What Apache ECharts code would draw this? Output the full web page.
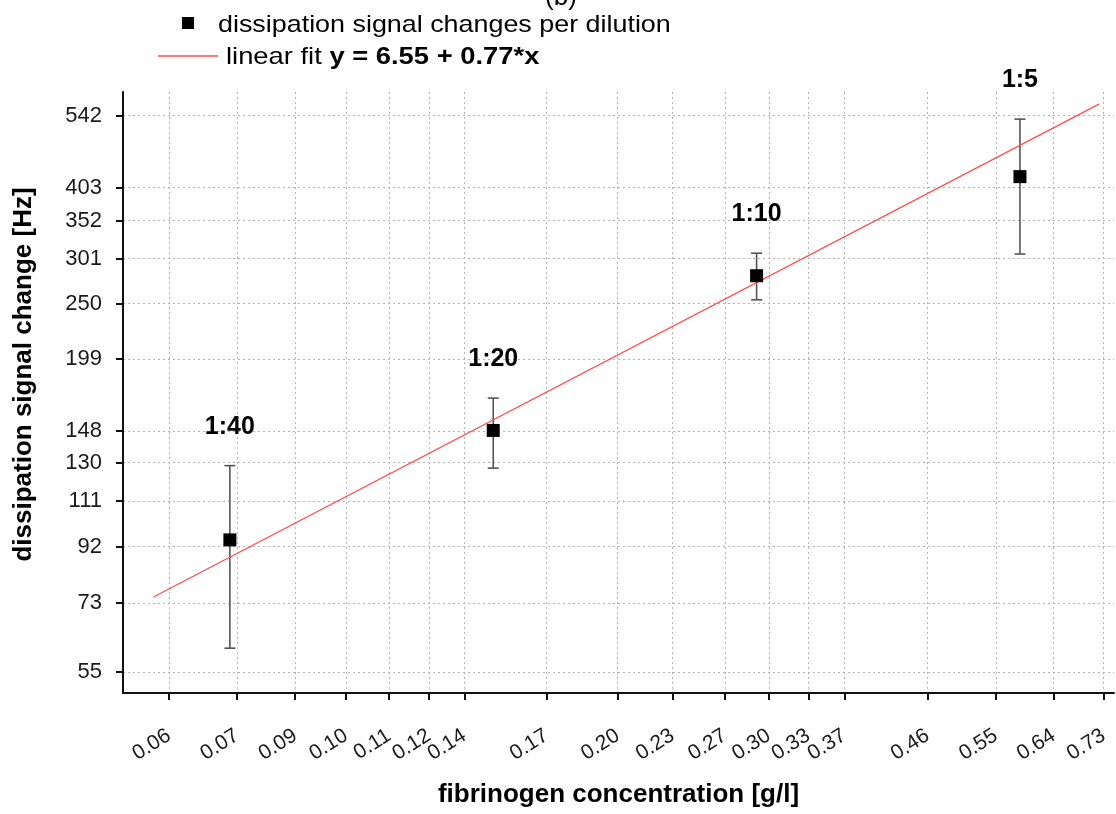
<!DOCTYPE html>
<html>
<head>
<meta charset="utf-8">
<script src="https://cdn.jsdelivr.net/npm/echarts@6/dist/echarts.min.js"></script>
<style>
  html, body { margin: 0; padding: 0; background: #ffffff; }
  #chart { width: 1116px; height: 814px; }
</style>
</head>
<body>
<div id="chart"></div>
<script>
// Fibrinogen dilution series measured by the dissipation signal
const dilutions = ['1:40', '1:20', '1:10', '1:5'];
const concentration = [0.073, 0.146, 0.292, 0.584];      // g/l
const dissipation = [94.6, 148.4, 280.4, 421.5];         // Hz
const errLow = [60.6, 127.1, 254, 306.6];
const errHigh = [128.4, 169.5, 307.6, 534];

// End points of the fitted line (straight on log-log axes)
const fitX = [0.0597, 0.719];
const fitY = [74.8, 568];

// Tick values on both log axes
const xTicks = [0.0622, 0.0744, 0.0867, 0.0991, 0.111, 0.1233, 0.1353, 0.168, 0.2026, 0.234,
                0.2686, 0.3015, 0.3346, 0.3679, 0.458, 0.548, 0.638, 0.728];
const yTicks = [55, 73, 92, 111, 130, 148, 199, 250, 301, 352, 403, 542];

const FONT = '"Liberation Sans", Arial, sans-serif';

const chart = echarts.init(document.getElementById('chart'), null, { renderer: 'canvas' });

const errData = concentration.map((c, i) => [c, errLow[i], errHigh[i], i]);
const pointData = concentration.map((c, i) => [c, dissipation[i]]);
const fitData = fitX.map((x, i) => [x, fitY[i]]);

const axisLineStyle = { color: '#111', width: 2 };
const gridLine = { show: true, lineStyle: { color: '#b4b4b4', type: [2, 3], width: 1 } };

chart.setOption({
  animation: false,
  backgroundColor: '#ffffff',
  grid: { left: 123, right: 2, top: 92, bottom: 121, containLabel: false },
  xAxis: {
    type: 'log',
    logBase: Math.E,
    min: 0.0551,
    max: 0.748,
    name: 'fibrinogen concentration [g/l]',
    nameLocation: 'middle',
    nameGap: 89,
    nameTextStyle: { fontFamily: FONT, fontWeight: 'bold', fontSize: 26, color: '#000' },
    axisLine: { show: true, lineStyle: axisLineStyle },
    axisTick: { show: true, length: 7, inside: false, lineStyle: axisLineStyle, customValues: xTicks },
    axisLabel: {
      customValues: xTicks,
      rotate: 32,
      margin: 41,
      fontFamily: FONT,
      fontSize: 21,
      color: '#1a1a1a',
      formatter: v => Number(v).toFixed(2)
    },
    splitLine: gridLine,
    minorTick: { show: false },
    minorSplitLine: { show: false }
  },
  yAxis: {
    type: 'log',
    logBase: Math.E,
    min: 50.4,
    max: 597,
    name: 'dissipation signal change [Hz]',
    nameLocation: 'middle',
    nameGap: 86,
    nameRotate: 90,
    nameTextStyle: { fontFamily: FONT, fontWeight: 'bold', fontSize: 26, color: '#000', padding: [0, 0, 0, 36] },
    axisLine: { show: true, lineStyle: axisLineStyle },
    axisTick: { show: true, length: 7, inside: false, lineStyle: axisLineStyle, customValues: yTicks },
    axisLabel: {
      customValues: yTicks,
      margin: 21,
      fontFamily: FONT,
      fontSize: 22,
      color: '#1a1a1a',
      formatter: v => String(Math.round(v))
    },
    splitLine: gridLine
  },
  graphic: [
    // figure panel tag, mostly above the canvas
    { type: 'text', x: 561, y: 11, style: { text: '(b)', font: '26px ' + FONT, fill: '#000', align: 'center', verticalAlign: 'bottom' } },
    // legend: measured points
    { type: 'rect', shape: { x: 182, y: 17, width: 12, height: 12 }, style: { fill: '#000' } },
    {
      type: 'text', x: 218, y: 25, scaleX: 1.12,
      style: { text: 'dissipation signal changes per dilution', font: '24px ' + FONT, fill: '#000', verticalAlign: 'middle' }
    },
    // legend: fitted line
    { type: 'line', shape: { x1: 158, y1: 56, x2: 218, y2: 56 }, style: { stroke: '#ff4d4d', lineWidth: 1.3 } },
    {
      type: 'text', x: 226, y: 57, scaleX: 1.14,
      style: {
        text: '{n|linear fit }{b|y = 6.55 + 0.77*x}',
        verticalAlign: 'middle',
        rich: {
          n: { fontFamily: FONT, fontSize: 24, color: '#000' },
          b: { fontFamily: FONT, fontSize: 24, fontWeight: 'bold', color: '#000' }
        }
      }
    }
  ],
  series: [
    {
      name: 'error',
      type: 'custom',
      z: 2,
      encode: { x: 0, y: [1, 2] },
      data: errData,
      renderItem: (params, api) => {
        const x = api.value(0);
        const lo = api.coord([x, api.value(1)]);
        const hi = api.coord([x, api.value(2)]);
        const idx = api.value(3);
        const cap = 5.5;
        const stroke = { stroke: '#555', lineWidth: 1.6 };
        return {
          type: 'group',
          children: [
            { type: 'line', shape: { x1: lo[0], y1: lo[1], x2: hi[0], y2: hi[1] }, style: stroke },
            { type: 'line', shape: { x1: lo[0] - cap, y1: lo[1], x2: lo[0] + cap, y2: lo[1] }, style: stroke },
            { type: 'line', shape: { x1: hi[0] - cap, y1: hi[1], x2: hi[0] + cap, y2: hi[1] }, style: stroke },
            {
              type: 'text',
              x: hi[0], y: hi[1] - 39,
              style: {
                text: dilutions[idx],
                font: 'bold 25px ' + FONT,
                fill: '#000',
                align: 'center',
                verticalAlign: 'middle'
              }
            }
          ]
        };
      }
    },
    {
      name: 'linear fit',
      type: 'line',
      z: 3,
      data: fitData,
      showSymbol: false,
      lineStyle: { color: '#ff4d4d', width: 1.3 },
      silent: true
    },
    {
      name: 'dissipation signal changes per dilution',
      type: 'scatter',
      z: 4,
      data: pointData,
      symbol: 'rect',
      symbolSize: 13,
      itemStyle: { color: '#000', opacity: 1 }
    }
  ]
});
</script>
</body>
</html>
